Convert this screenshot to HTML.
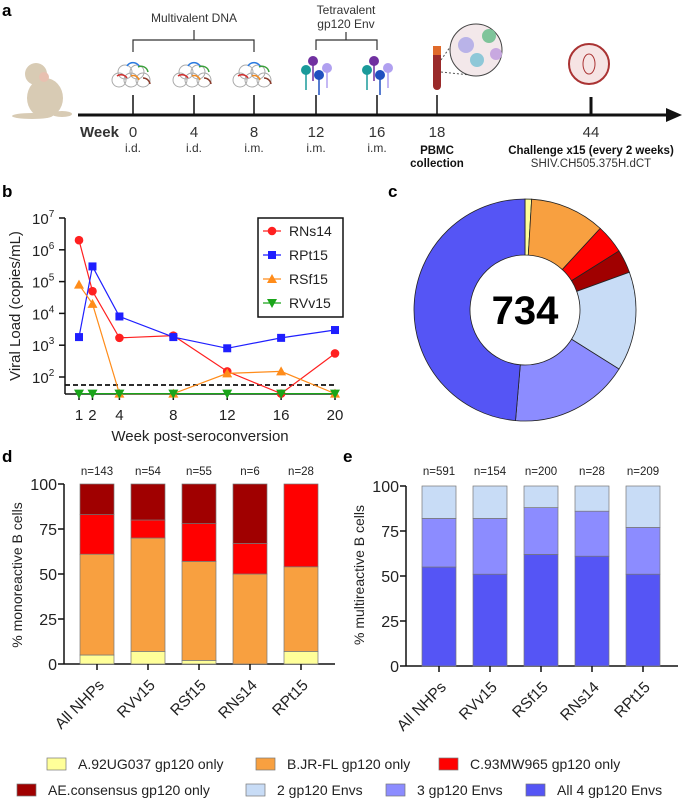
<!DOCTYPE html>
<html><head><meta charset="utf-8"><style>
body{margin:0;background:#fff}
svg{display:block;font-family:"Liberation Sans",sans-serif}
</style></head><body>
<svg id="fig" width="684" height="799" viewBox="0 0 684 799" xmlns="http://www.w3.org/2000/svg">
<g id="pa">
<text x="2" y="16" font-size="17" font-weight="bold">a</text>
<g fill="#d8cbb4">
<ellipse cx="45" cy="98" rx="18" ry="20"/><circle cx="36" cy="74" r="11"/><circle cx="44" cy="77" r="5" fill="#e8c0b0"/><ellipse cx="32" cy="116" rx="20" ry="3"/><ellipse cx="62" cy="114" rx="10" ry="3"/></g>
<line x1="78" y1="115" x2="668" y2="115" stroke="#111" stroke-width="3"/>
<polygon points="666,108 682,115 666,122" fill="#111"/>
<path d="M133,52V40H254V52 M194,40V30" fill="none" stroke="#333" stroke-width="1.2"/>
<text x="194" y="22" font-size="12" text-anchor="middle" fill="#333">Multivalent DNA</text>
<path d="M316,50V40H377V50 M346,40V32" fill="none" stroke="#333" stroke-width="1.2"/>
<text x="346" y="14" font-size="12" text-anchor="middle" fill="#333">Tetravalent</text>
<text x="346" y="28" font-size="12" text-anchor="middle" fill="#333">gp120 Env</text>
<text x="80" y="137" font-size="15" font-weight="bold" fill="#333">Week</text>
<g id="ticksA"></g>
<g><rect x="433" y="48" width="8" height="42" rx="4" fill="#9a2a2a"/><rect x="433" y="46" width="8" height="9" fill="#e06a2a"/></g>
<path d="M441,60L455,40 M441,72L470,75" stroke="#555" stroke-dasharray="2,2" fill="none"/>
<circle cx="476" cy="50" r="26" fill="#f3e8ea" stroke="#444"/>
<circle cx="466" cy="45" r="8" fill="#b9b3e8"/><circle cx="489" cy="36" r="7" fill="#7fc49a"/><circle cx="477" cy="60" r="7" fill="#8ec8d8"/><circle cx="496" cy="54" r="6" fill="#c8a8e0"/>
<g><circle cx="589" cy="64" r="20" fill="#f6e4e4" stroke="#a33" stroke-width="2"/><ellipse cx="589" cy="64" rx="6" ry="10" fill="none" stroke="#a33"/></g>
</g>

<g id="pb">
<text x="2" y="197" font-size="17" font-weight="bold">b</text>
<text transform="translate(20,306) rotate(-90)" font-size="15" text-anchor="middle" fill="#222">Viral  Load (copies/mL)</text>
<text x="200" y="441" font-size="15" text-anchor="middle" fill="#222">Week post-seroconversion</text>
<g id="bAxes"></g><g id="bMarks"></g><g id="bLegend"></g>
</g>

<g id="pc">
<text x="388" y="197" font-size="17" font-weight="bold">c</text>
<g id="donut"></g>
<text x="525" y="324" font-size="40" font-weight="bold" text-anchor="middle">734</text>
</g>

<g id="pd">
<text x="2" y="462" font-size="17" font-weight="bold">d</text>
<text transform="translate(22,575) rotate(-90)" font-size="14" text-anchor="middle" fill="#222">% monoreactive  B cells</text>
<g id="dChart"></g>
</g>
<g id="pe">
<text x="343" y="462" font-size="17" font-weight="bold">e</text>
<text transform="translate(364,575) rotate(-90)" font-size="14" text-anchor="middle" fill="#222">% multireactive B cells</text>
<g id="eChart"></g>
</g>
<g id="legend"></g>
</svg>
<script>
const NS="http://www.w3.org/2000/svg";
function mk(p,t,a,txt){const e=document.createElementNS(NS,t);for(const k in a)e.setAttribute(k,a[k]);if(txt!==undefined)e.textContent=txt;p.appendChild(e);return e;}

// Panel a
const weeksA=["0","4","8","12","16","18","44"];
const weekXA=[133,194,254,316,377,437,591];
const routeA=["i.d.","i.d.","i.m.","i.m.","i.m.","",""];
const tA=document.getElementById("ticksA");
weeksA.forEach((w,i)=>{const x=weekXA[i];
let l=mk(tA,"line",{x1:x,y1:i==6?97:95,x2:x,y2:115,stroke:"#111","stroke-width":i==6?3:1.5});

let t=mk(tA,"text",{x:x,y:137,"font-size":15,"text-anchor":"middle",fill:"#333"},w);

if(routeA[i]){let r=mk(tA,"text",{x:x,y:152,"font-size":12,"text-anchor":"middle",fill:"#333"},routeA[i]);
}
if(i<3){[[-8,72],[4,72],[-2,80],[10,80],[-14,80]].forEach(p=>mk(tA,"circle",{cx:x+p[0],cy:p[1],r:7,fill:"none",stroke:"#aaa"}));
mk(tA,"path",{d:`M${x-6},66 a7,7 0 0 1 12,0`,fill:"none",stroke:"#2a7ae0","stroke-width":1.5});
mk(tA,"path",{d:`M${x+5},67 a7,7 0 0 1 10,5`,fill:"none",stroke:"#3aa03a","stroke-width":1.5});
mk(tA,"path",{d:`M${x-16},76 a7,7 0 0 1 10,2`,fill:"none",stroke:"#d03030","stroke-width":1.5});
mk(tA,"path",{d:`M${x-2},76 a6,6 0 0 1 8,4`,fill:"none",stroke:"#f08a20","stroke-width":1.5});
mk(tA,"path",{d:`M${x+10},78 a7,7 0 0 1 7,6`,fill:"none",stroke:"#8a3a2a","stroke-width":1.5});}
if(i==3||i==4){const cols=["#1a9a9a","#7030a0","#2050c0","#b0a0f0"],dx=[-10,-3,3,11],dy=[70,61,75,68];
cols.forEach((c,k)=>{mk(tA,"line",{x1:x+dx[k],y1:dy[k],x2:x+dx[k],y2:dy[k]+20,stroke:c,"stroke-width":1.5});mk(tA,"circle",{cx:x+dx[k],cy:dy[k],r:5,fill:c});});}
});
[["PBMC",437,154],["collection",437,167],["Challenge x15 (every 2 weeks)",591,154]].forEach(a=>{let t=mk(tA,"text",{x:a[1],y:a[2],"font-size":11.5,"font-weight":"bold","text-anchor":"middle",fill:"#111"},a[0]);});
let sh=mk(tA,"text",{x:591,y:167,"font-size":11.5,"text-anchor":"middle",fill:"#333"},"SHIV.CH505.375H.dCT");

// Panel b data
const bWeeks=[1,2,4,8,12,16,20];
const bRNs14=[2e6,5e4,1.7e3,2e3,150,30,550];
const bRPt15=[1.8e3,3e5,8e3,1.8e3,800,1.7e3,3e3];
const bRSf15=[8e4,2e4,30,30,130,150,30];
const bRVv15=[30,30,30,30,30,30,30];
const bNames=["RNs14","RPt15","RSf15","RVv15"];
const bColors=["#ff2020","#1f1fff","#ff8c1a","#1aa51a"];
const bXTicks=[1,2,4,8,12,16,20];
const bYTicks=[2,3,4,5,6,7];
const bx=w=>79+(w-1)*256/19;
const by=v=>377-(Math.log10(v)-2)*31.8;
const ax=document.getElementById("bAxes");
let yl=mk(ax,"line",{x1:65,y1:218,x2:65,y2:394,stroke:"#111","stroke-width":1.5});
let xl=mk(ax,"line",{x1:65,y1:394,x2:335,y2:394,stroke:"#111","stroke-width":1.5});
bYTicks.forEach(p=>{const y=by(Math.pow(10,p));mk(ax,"line",{x1:59,y1:y,x2:65,y2:y,stroke:"#111","stroke-width":1.5});
let t=mk(ax,"text",{x:32,y:y+6,"font-size":15,fill:"#222"},"10");
mk(t,"tspan",{dy:-7,"font-size":10},String(p));});
bXTicks.forEach(w=>{const x=bx(w);mk(ax,"line",{x1:x,y1:394,x2:x,y2:400,stroke:"#111","stroke-width":1.5});
let t=mk(ax,"text",{x:x,y:420,"font-size":15,"text-anchor":"middle",fill:"#222"},String(w));});
let dl=mk(ax,"line",{x1:65,y1:385,x2:335,y2:385,stroke:"#111","stroke-width":1.8,"stroke-dasharray":"5,3"});
const bm=document.getElementById("bMarks");
function marker(g,shape,x,y,c){let e;
if(shape==0)e=mk(g,"circle",{cx:x,cy:y,r:4.3,fill:c});
else if(shape==1)e=mk(g,"rect",{x:x-4,y:y-4,width:8,height:8,fill:c});
else if(shape==2)e=mk(g,"polygon",{points:`${x},${y-5} ${x+5},${y+4} ${x-5},${y+4}`,fill:c});
else e=mk(g,"polygon",{points:`${x-5},${y-4} ${x+5},${y-4} ${x},${y+5}`,fill:c});return e;}
[bRNs14,bRPt15,bRSf15,bRVv15].forEach((s,si)=>{const g=mk(bm,"g",{});
mk(g,"polyline",{points:s.map((v,i)=>bx(bWeeks[i])+","+Math.min(by(v),394)).join(" "),fill:"none",stroke:bColors[si],"stroke-width":1.2});
s.forEach((v,i)=>{const m=marker(g,si,bx(bWeeks[i]),Math.min(by(v),394),bColors[si]);});});
const lg=document.getElementById("bLegend");
let lb=mk(lg,"rect",{x:258,y:218,width:85,height:99,fill:"#fff",stroke:"#111","stroke-width":1.5});
bNames.forEach((n,i)=>{const y=231+i*24;mk(lg,"line",{x1:263,y1:y,x2:281,y2:y,stroke:bColors[i],"stroke-width":1.2});marker(lg,i,272,y,bColors[i]);
let t=mk(lg,"text",{x:289,y:y+5,"font-size":14,fill:"#222"},n);});

// Panel c donut
const cCats=["A.92UG037","B.JR-FL","C.93MW965","AE.consensus","2 Envs","3 Envs","All 4 Envs"];
const cValues=[7,80,31,25,106,128,357];
const cColors=["#ffff99","#f8a040","#ff0000","#a00000","#c8dcf6","#8c8cff","#5555f5"];
const dn=document.getElementById("donut");
const cx=525,cy=310,R=111,r=55,tot=cValues.reduce((a,b)=>a+b,0);
let acc=0;
cValues.forEach((v,i)=>{const a0=acc/tot*2*Math.PI,a1=(acc+v)/tot*2*Math.PI;acc+=v;
const p=(a,rr)=>[cx+rr*Math.sin(a),cy-rr*Math.cos(a)];const lf=(a1-a0)>Math.PI?1:0;
const [x0,y0]=p(a0,R),[x1,y1]=p(a1,R),[x2,y2]=p(a1,r),[x3,y3]=p(a0,r);
let s=mk(dn,"path",{d:`M${x0},${y0}A${R},${R} 0 ${lf} 1 ${x1},${y1}L${x2},${y2}A${r},${r} 0 ${lf} 0 ${x3},${y3}Z`,fill:cColors[i],stroke:"#222","stroke-width":0.8});
});

// Panels d/e
const groups=["All NHPs","RVv15","RSf15","RNs14","RPt15"];
const dCounts=["n=143","n=54","n=55","n=6","n=28"];
const dA=[5,7,2,0,7];
const dB=[56,63,55,50,47];
const dC=[22,10,21,17,46];
const dAE=[17,20,22,33,0];
const eCounts=["n=591","n=154","n=200","n=28","n=209"];
const eAll4=[55,51,62,61,51];
const e3=[27,31,26,25,26];
const e2=[18,18,12,14,23];
const yTicks=[0,25,50,75,100];
function stacked(gid,x0,x1,top,bot,step,series,colors,counts){const g=document.getElementById(gid);
const yv=v=>bot-v*(bot-top)/100,xc=i=>x0+33+i*step;
mk(g,"line",{x1:x0,y1:top,x2:x0,y2:bot,stroke:"#111","stroke-width":1.5});
mk(g,"line",{x1:x0,y1:bot,x2:x1,y2:bot,stroke:"#111","stroke-width":1.5});
yTicks.forEach(t=>{mk(g,"line",{x1:x0-6,y1:yv(t),x2:x0,y2:yv(t),stroke:"#111","stroke-width":1.5});
let l=mk(g,"text",{x:x0-7,y:yv(t)+6,"font-size":16,"text-anchor":"end",fill:"#222"},String(t));});
groups.forEach((gn,i)=>{let c=0;series.forEach((s,k)=>{const v=s[i];if(v>0){
let b=mk(g,"rect",{x:xc(i)-17,y:yv(c+v),width:34,height:yv(c)-yv(c+v),fill:colors[k],stroke:"#777","stroke-width":0.7});
}c+=v;});
mk(g,"line",{x1:xc(i),y1:bot,x2:xc(i),y2:bot+6,stroke:"#111","stroke-width":1.5});
let n=mk(g,"text",{x:xc(i),y:475,"font-size":11.5,"text-anchor":"middle",fill:"#222"},counts[i]);
let t=mk(g,"text",{transform:`translate(${xc(i)+8},${bot+22}) rotate(-45)`,"font-size":15.5,"text-anchor":"end",fill:"#222"},gn);});}
stacked("dChart",64,335,484,664,51,[dA,dB,dC,dAE],cColors.slice(0,4),dCounts);
stacked("eChart",406,678,486,666,51,[eAll4,e3,e2],["#5555f5","#8c8cff","#c8dcf6"],eCounts);

// Legend
const legLabels=["A.92UG037 gp120 only","B.JR-FL gp120 only","C.93MW965 gp120 only","AE.consensus gp120 only","2 gp120 Envs","3 gp120 Envs","All 4 gp120 Envs"];
const legColors=["#ffff99","#f8a040","#ff0000","#a00000","#c8dcf6","#8c8cff","#5555f5"];
const legX=[47,256,439,17,246,386,526];
const LG=document.getElementById("legend");
legLabels.forEach((l,i)=>{const y=i<3?764:790,xs=legX[i];
let r=mk(LG,"rect",{x:xs,y:y-6,width:19,height:12,fill:legColors[i],stroke:"#777","stroke-width":0.7});
let t=mk(LG,"text",{x:xs+31,y:y+5,"font-size":14,fill:"#222"},l);});
</script>
</body></html>
